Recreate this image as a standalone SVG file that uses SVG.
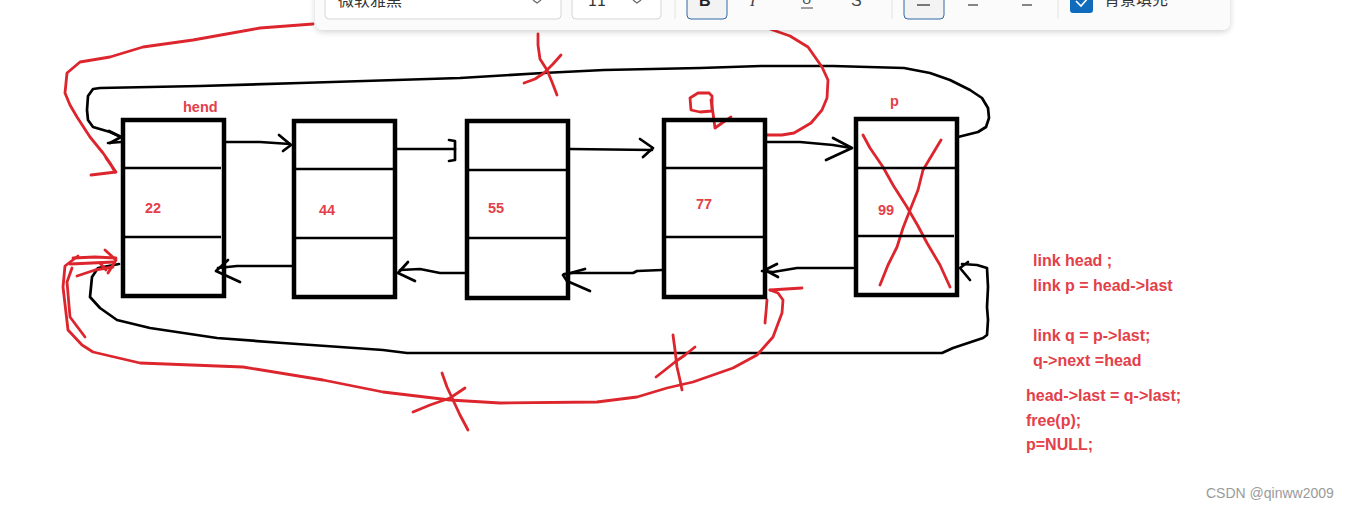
<svg xmlns="http://www.w3.org/2000/svg" width="1351" height="511" viewBox="0 0 1351 511">
<style>
.box{fill:none;stroke:#000;stroke-width:4.5}
.div{stroke:#000;stroke-width:2.5}
.blk{fill:none;stroke:#000;stroke-width:2.7;stroke-linejoin:round;stroke-linecap:round}
.red{fill:none;stroke:#dc252c;stroke-width:2.8;stroke-linejoin:round;stroke-linecap:round}
.lbl{font-family:"Liberation Sans",Arial,sans-serif;font-weight:bold;font-size:14.5px;fill:#e3404a}
.code{font-family:"Liberation Sans",Arial,sans-serif;font-weight:bold;font-size:16px;fill:#e3404a}
.tb{font-family:"Noto Sans CJK SC","Noto Sans",sans-serif;font-size:16px;fill:#333}
</style>
<defs>
<filter id="sh" x="-5%" y="-50%" width="110%" height="200%">
<feGaussianBlur in="SourceAlpha" stdDeviation="3"/>
<feOffset dy="2"/>
<feComponentTransfer><feFuncA type="linear" slope="0.18"/></feComponentTransfer>
<feMerge><feMergeNode/><feMergeNode in="SourceGraphic"/></feMerge>
</filter>
</defs>
<rect width="1351" height="511" fill="#fff"/>

<g id="connectors">
<polyline class="blk" points="958,137 966,135 978,132 986,127 989,118 988,108 982,98 970,90 950,80 930,73 904,68 833,66 761,66 700,68 604,70 543,73 460,78 300,83 200,86 100,88 93,89 88,96 87,110 88,120 93,127 110,132 121,137"/>
<polyline class="blk" points="109,131 121,137 110,143"/>
<line class="blk" x1="108" y1="143" x2="121" y2="142"/>
<polyline class="blk" points="226,142 260,142 290,144"/>
<polyline class="blk" points="279,135 291,145 283,151"/>
<polyline class="blk" points="397,149 455,149"/>
<polyline class="blk" points="449,140 455,141 455,160 449,161"/>
<polyline class="blk" points="570,149 652,150"/>
<polyline class="blk" points="640,139 653,148 643,157"/>
<polyline class="blk" points="767,142 800,142 833,145 851,148"/>
<polyline class="blk" points="833,138 852,148 826,160"/>
<polyline class="blk" points="292,266 237,266 218,268"/>
<polyline class="blk" points="228,260 216,271 240,282"/>
<polyline class="blk" points="465,273 440,273 420,269 400,270"/>
<polyline class="blk" points="408,262 398,273 415,281"/>
<polyline class="blk" points="662,270 637,271 633,273 573,273 564,274"/>
<polyline class="blk" points="585,269 563,275 567,281 590,291"/>
<polyline class="blk" points="853,268 797,268 773,272 762,271"/>
<polyline class="blk" points="777,264 765,270 778,277"/>
<polyline class="blk" points="119,264 98,268 92,277 90,297 100,308 117,320 150,328 217,338 283,343 383,350 407,353 500,353 942,353 953,348 983,338 987,335 988,320 987,307 988,287 987,268 977,265 962,264"/>
<polyline class="blk" points="968,262 960,268 970,280"/>
</g>

<g id="red-marks">
<polyline class="red" points="313,24 260,28 193,40 143,47 110,57 80,62 67,73 65,93 70,105 77,117 90,137 103,153 110,163 115,172"/>
<polyline class="red" points="106,158 116,172 91,175"/>
<polyline class="red" points="538,34 538,45 540,59 547,70 552,82 557,95"/>
<polyline class="red" points="561,55 553,64 544,73 535,79 524,83"/>
<polyline class="red" points="709,93 698,93 690,98 691,110 700,112 712,111 712,96 709,93"/>
<polyline class="red" points="711,100 713,113 715,128 722,123 731,117"/>
<polyline class="red" points="767,135 782,135 794,133 811,123 822,110 827,98 828,80 822,67 808,47 790,36 770,29"/>
<polyline class="red" points="863,135 870,148 883,167 893,185 907,207 918,226 927,243 940,265 950,287"/>
<polyline class="red" points="941,140 932,155 923,170 918,190 910,210 903,228 897,247 888,265 880,285"/>
<polyline class="red" points="73,258 95,257 116,258"/>
<polyline class="red" points="70,264 92,263 114,262"/>
<polyline class="red" points="77,276 95,270 113,267"/>
<polyline class="red" points="105,250 116,260 108,273"/>
<polyline class="red" points="100,263 106,270"/>
<polyline class="red" points="78,256 65,266 63,287 68,330 82,345 93,352 140,363 243,367 323,380 383,392 450,400 500,403 597,402 637,397 667,388 693,382 733,368 757,355 773,337 782,313 783,300 778,293 770,290"/>
<polyline class="red" points="72,268 67,282 70,317 85,337"/>
<polyline class="red" points="770,290 802,288"/>
<polyline class="red" points="767,300 766,312 765,323"/>
<polyline class="red" points="442,373 447,387 453,400 460,415 468,430"/>
<polyline class="red" points="465,388 450,398 430,405 413,412"/>
<polyline class="red" points="673,335 675,350 677,367 680,380 682,390"/>
<polyline class="red" points="695,347 685,355 675,362 665,370 656,377"/>
</g>

<g id="node1">
<rect class="box" x="123" y="120" width="101" height="176"/>
<line class="div" x1="123" y1="168" x2="221" y2="168"/>
<line class="div" x1="123" y1="237" x2="221" y2="237"/>
<text class="lbl" x="183" y="112">hend</text>
<text class="lbl" x="145" y="213">22</text>
</g>
<g id="node2">
<rect class="box" x="294" y="121" width="101" height="176"/>
<line class="div" x1="294" y1="169" x2="393" y2="169"/>
<line class="div" x1="294" y1="238" x2="393" y2="238"/>
<text class="lbl" x="319" y="215">44</text>
</g>
<g id="node3">
<rect class="box" x="467" y="121" width="101" height="177"/>
<line class="div" x1="467" y1="170" x2="566" y2="170"/>
<line class="div" x1="467" y1="238" x2="566" y2="238"/>
<text class="lbl" x="488" y="213">55</text>
</g>
<g id="node4">
<rect class="box" x="664" y="120" width="101" height="177"/>
<line class="div" x1="664" y1="168" x2="763" y2="168"/>
<line class="div" x1="664" y1="237" x2="763" y2="237"/>
<text class="lbl" x="696" y="209">77</text>
</g>
<g id="node5">
<rect class="box" x="856" y="119" width="101" height="176"/>
<line class="div" x1="856" y1="168" x2="955" y2="168"/>
<line class="div" x1="856" y1="236" x2="954" y2="236"/>
<text class="lbl" x="890" y="106">p</text>
<text class="lbl" x="878" y="215">99</text>
</g>

<g id="code">
<text class="code" x="1033" y="266">link head ;</text>
<text class="code" x="1033" y="291">link p = head-&gt;last</text>
<text class="code" x="1033" y="341">link q = p-&gt;last;</text>
<text class="code" x="1033" y="366">q-&gt;next =head</text>
<text class="code" x="1026" y="401">head-&gt;last = q-&gt;last;</text>
<text class="code" x="1026" y="426">free(p);</text>
<text class="code" x="1026" y="450">p=NULL;</text>
</g>

<g id="toolbar">
<rect x="315" y="-12" width="915" height="42" rx="8" fill="#fcfbfb" filter="url(#sh)"/>
<rect x="325" y="-6" width="236" height="25" rx="4" fill="#fff" stroke="#d6d6d6"/>
<text class="tb" x="338" y="6">微软雅黑</text>
<polyline points="533,0 537,3 541,0" fill="none" stroke="#666" stroke-width="1.2"/>
<rect x="572" y="-6" width="89" height="25" rx="4" fill="#fff" stroke="#d6d6d6"/>
<text class="tb" x="588" y="6">11</text>
<polyline points="633,0 637,3 641,0" fill="none" stroke="#666" stroke-width="1.2"/>
<line x1="675" y1="0" x2="675" y2="19" stroke="#e2e2e2"/>
<rect x="687" y="-6" width="40" height="25" rx="4" fill="#f3f3f3" stroke="#2e6aa6"/>
<text x="699" y="6" font-family="Liberation Sans,Arial,sans-serif" font-weight="bold" font-size="16" fill="#222">B</text>
<text x="750" y="6" font-family="Liberation Serif,serif" font-style="italic" font-size="16" fill="#444">I</text>
<text x="802" y="4" font-family="Liberation Sans,Arial,sans-serif" font-size="13" fill="#444">U</text>
<line x1="801" y1="8" x2="813" y2="8" stroke="#444" stroke-width="1"/>
<text x="851" y="6" font-family="Liberation Sans,Arial,sans-serif" font-size="16" fill="#444">S</text>
<line x1="892" y1="0" x2="892" y2="19" stroke="#e2e2e2"/>
<rect x="904" y="-6" width="40" height="25" rx="4" fill="#f3f3f3" stroke="#2e6aa6"/>
<line x1="917" y1="5" x2="930" y2="5" stroke="#333" stroke-width="1.3"/>
<line x1="968" y1="5" x2="978" y2="5" stroke="#444" stroke-width="1.3"/>
<line x1="1022" y1="5" x2="1032" y2="5" stroke="#444" stroke-width="1.3"/>
<line x1="1058" y1="0" x2="1058" y2="19" stroke="#e2e2e2"/>
<rect x="1070" y="-6" width="23" height="19" rx="3" fill="#0f6cbd"/>
<polyline points="1076,1 1081,6 1088,-2" fill="none" stroke="#fff" stroke-width="1.6"/>
<text class="tb" x="1104" y="5">背景填充</text>
</g>

<text x="1206" y="498" font-family="Liberation Sans,Arial,sans-serif" font-size="14" fill="#9a9a9a">CSDN @qinww2009</text>
</svg>
